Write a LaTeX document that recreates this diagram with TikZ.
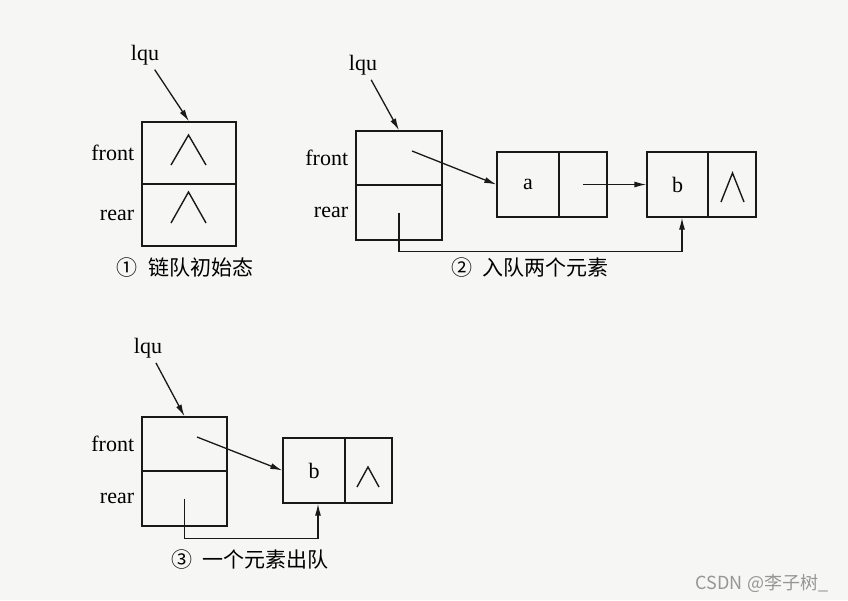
\documentclass[tikz,border=0pt]{standalone}
\usepackage{fontspec}
\setmainfont{Liberation Serif}
\newfontfamily\cjk{Noto Sans CJK SC}
\usetikzlibrary{positioning,arrows.meta}
\definecolor{paper}{RGB}{246,246,244}
\definecolor{ink}{RGB}{25,25,25}
\definecolor{wmgray}{RGB}{150,150,150}
\begin{document}
\begin{tikzpicture}[x=1pt,y=-1pt,
  cell/.style={draw=ink,line width=1.3pt,inner sep=0pt,font=\fontsize{22}{24}\selectfont},
  lbl/.style={inner sep=2pt,font=\fontsize{22}{24}\selectfont},
  capt/.style={font=\cjk\fontsize{21}{24}\selectfont},
  ptr/.style={draw=ink,line width=1.3pt,-{Latex[length=12pt,width=6pt]}},
  nil/.pic={\draw[ink,line width=1.4pt] (-0.5,0.5) -- (0,-0.5) -- (0.5,0.5);}]
  \path[fill=paper,use as bounding box] (0,0) rectangle (848,600);

  \node[cell,minimum width=94,minimum height=62] (f1) at (189,153) {};
  \node[cell,minimum width=94,minimum height=62] (r1) at (189,215) {};
  \node[lbl,left=5pt of f1] (fl1) {front};
  \node[lbl,left=5pt of r1] (rl1) {rear};
  \node[lbl] (lqu1) at (145,55) {lqu};
  \draw[ptr,shorten <=3pt] (lqu1) -- (f1.north);
  \pic[xscale=35,yscale=30] at (188.5,150) {nil};
  \pic[xscale=35,yscale=31] at (188.5,207.5) {nil};
  \node[capt] (c1) at (185,268) {①\hspace{11pt}链队初始态};

  \node[cell,minimum width=86,minimum height=54] (f2) at (399,158) {};
  \node[cell,minimum width=86,minimum height=55] (r2) at (399,212.5) {};
  \node[lbl,left=5pt of f2] (fl2) {front};
  \node[lbl,left=5pt of r2] (rl2) {rear};
  \node[lbl] (lqu2) at (363,65) {lqu};
  \draw[ptr,shorten <=3pt] (lqu2) -- (f2.north);
  \node[cell,minimum width=62,minimum height=65] (a2) at (528,184.5) {a};
  \node[cell,minimum width=48,minimum height=65] (a2n) at (583,184.5) {};
  \node[cell,minimum width=61,minimum height=65] (b2) at (677.5,184.5) {b};
  \node[cell,minimum width=48,minimum height=65] (b2n) at (732,184.5) {};
  \coordinate (p2) at (412,151);
  \draw[ptr] (p2) -- (a2.west);
  \draw[ptr] (a2n.center) -- (b2.west);
  \draw[ptr] (r2.center) -- ++(0,39) -| ([xshift=4.5pt]b2.south);
  \pic[xscale=23,yscale=29] at (732.5,187.5) {nil};
  \node[capt] (c2) at (530,268) {②\hspace{11pt}入队两个元素};

  \node[cell,minimum width=85,minimum height=54] (f3) at (184.5,444) {};
  \node[cell,minimum width=85,minimum height=55] (r3) at (184.5,498.5) {};
  \node[lbl,left=5pt of f3] (fl3) {front};
  \node[lbl,left=5pt of r3] (rl3) {rear};
  \node[lbl] (lqu3) at (148,348) {lqu};
  \draw[ptr,shorten <=3pt] (lqu3) -- (f3.north);
  \node[cell,minimum width=62,minimum height=65] (b3) at (314,470.5) {b};
  \node[cell,minimum width=47,minimum height=65] (b3n) at (368.5,470.5) {};
  \coordinate (p3) at (197,437);
  \draw[ptr] (p3) -- (b3.west);
  \draw[ptr] (r3.center) -- ++(0,40) -| ([xshift=4pt]b3.south);
  \pic[xscale=22,yscale=20] at (368,477) {nil};
  \node[capt] (c3) at (250,560) {③\hspace{11pt}一个元素出队};

  \node[font=\cjk\fontsize{18}{20}\selectfont,text=wmgray] (wm) at (762,583) {CSDN @李子树\_};
\end{tikzpicture}
\end{document}
